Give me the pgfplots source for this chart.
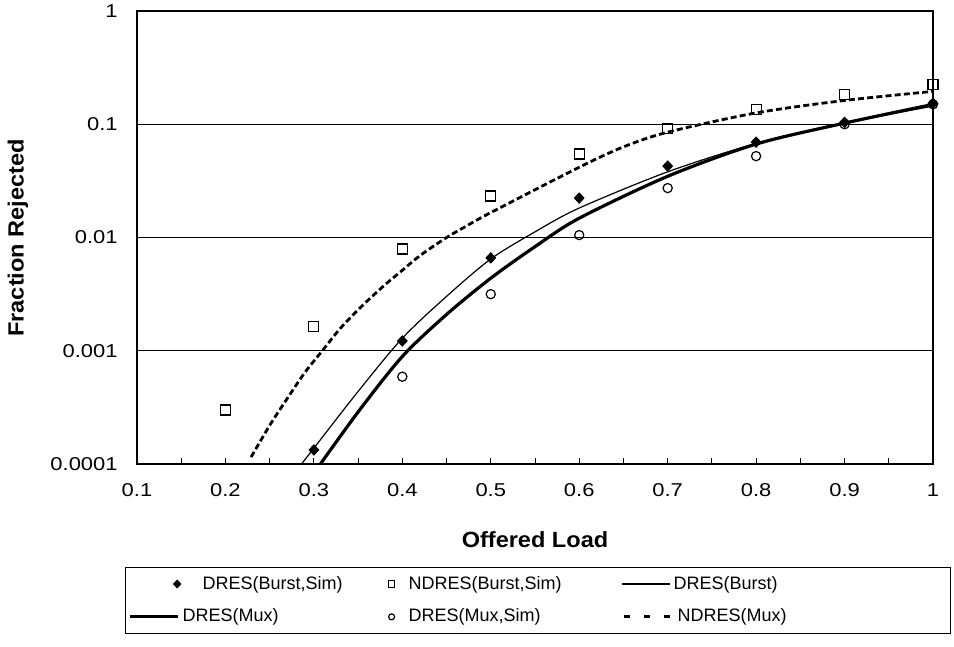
\documentclass[border=0pt]{standalone}
\usepackage{fontspec}
\setmainfont{Liberation Sans}
\newfontfamily\tickfont{Liberation Sans}[FakeStretch=1.18]
\newfontfamily\labfont{Liberation Sans}[FakeStretch=1.07]
\usepackage{pgfplots}
\pgfplotsset{compat=1.18}

\pgfplotsset{
  legmarkA/.style={legend image code/.code={\path[draw=none] (0bp,0bp) -- (24bp,0bp); \draw[##1, every mark/.append style={scale=0.7}] plot coordinates {(23.5bp,0bp)};}},
  legmarkB/.style={legend image code/.code={\path[draw=none] (0bp,0bp) -- (24bp,0bp); \draw[##1, every mark/.append style={scale=0.65}] plot coordinates {(16.5bp,0bp)};}},
  legline/.style={legend image code/.code={\draw[##1] (0bp,0bp) -- (24bp,0bp);}},
  legdash/.style={legend image code/.code={\draw[##1, dash pattern=on 3bp off 7bp] (1bp,0bp) -- (24bp,0bp);}},
}

\pgfplotstableread{
x y
0.3 1.33e-4
0.4 1.22e-3
0.5 6.6e-3
0.6 0.0223
0.7 0.0427
0.8 0.0695
0.9 0.104
1.0 0.153
}\dresburstsim
\pgfplotstableread{
x y
0.2 3.0e-4
0.3 1.65e-3
0.4 7.9e-3
0.5 0.0232
0.6 0.0545
0.7 0.092
0.8 0.136
0.9 0.184
1.0 0.226
}\ndresburstsim
\pgfplotstableread{
x y
0.28 8.7e-5
0.30 1.38e-4
0.35 4.37e-4
0.40 1.29e-3
0.45 3.02e-3
0.50 6.46e-3
0.55 0.01122
0.60 0.0182
0.70 0.0380
0.80 0.0676
0.90 0.1023
1.00 0.1445
}\dresburst
\pgfplotstableread{
x y
0.30 8.3e-5
0.35 2.88e-4
0.40 8.9e-4
0.45 2.09e-3
0.50 4.37e-3
0.55 8.3e-3
0.60 0.0148
0.70 0.0347
0.80 0.0668
0.90 0.1023
1.00 0.1496
}\dresmux
\pgfplotstableread{
x y
0.4 5.9e-4
0.5 3.16e-3
0.6 0.0105
0.7 0.0273
0.8 0.0523
0.9 0.100
1.0 0.150
}\dresmuxsim
\pgfplotstableread{
x y
0.229 1.15e-4
0.25 2.19e-4
0.27 3.80e-4
0.29 6.46e-4
0.31 1.01e-3
0.33 1.58e-3
0.355 2.51e-3
0.38 3.80e-3
0.40 5.13e-3
0.42 6.92e-3
0.45 0.0100
0.47 0.0123
0.50 0.0166
0.60 0.0417
0.65 0.0631
0.70 0.0851
0.80 0.1259
0.90 0.1622
1.00 0.195
}\ndresmux

\begin{document}
\begin{tikzpicture}
\begin{axis}[
  scale only axis, width=398bp, height=226.5bp,
  xmin=0.1, xmax=1, ymin=1e-4, ymax=1,
  ymode=log, log basis y=10,
  xtick={0.1,0.2,0.3,0.4,0.5,0.6,0.7,0.8,0.9,1},
  xticklabels={0.1,0.2,0.3,0.4,0.5,0.6,0.7,0.8,0.9,1},
  extra x ticks={0.15,0.25,0.35,0.45,0.55,0.65,0.75,0.85,0.95},
  extra x tick labels={},
  ytick={0.0001,0.001,0.01,0.1,1},
  yticklabels={0.0001,0.001,0.01,0.1,1},
  tick align=inside, tick pos=left,
  major tick length=3bp, minor tick length=2bp,
  every tick/.style={black, line width=0.5bp},
  ymajorgrids, major grid style={black, line width=0.5bp},
  axis line style={black, line width=0.8bp},
  xticklabel style={font=\tickfont\fontsize{9.3bp}{11bp}\selectfont, anchor=center, yshift=-13bp},
  yticklabel style={font=\tickfont\fontsize{9.3bp}{11bp}\selectfont, anchor=east, inner sep=0pt, xshift=-9.5bp},
  xlabel={Offered Load},
  ylabel={Fraction Rejected},
  xlabel style={font=\labfont\bfseries\fontsize{11bp}{13bp}\selectfont, at={(axis description cs:0.5,-0.1678)}, anchor=center},
  ylabel style={font=\labfont\bfseries\fontsize{11bp}{13bp}\selectfont, at={(axis description cs:-0.1495,0.499)}, anchor=center},
  legend columns=3,
  legend cell align=left,
  legend style={at={(axis description cs:-0.01508,-0.2274)}, anchor=north west,
    draw=black, line width=0.6bp, inner xsep=1.5bp, inner ysep=0bp, row sep=0bp,
    font=\fontsize{9bp}{11bp}\selectfont,
    nodes={inner xsep=1bp, inner ysep=4.2bp},
    /tikz/column 2/.style={column sep=7bp},
    /tikz/column 4/.style={column sep=29bp}},
]
\coordinate (sw) at (rel axis cs:0,0);
\coordinate (ne) at (rel axis cs:1,1);

\addplot[only marks, mark=diamond*, mark size=2.6bp, black, mark options={xscale=1.25}, legmarkA]
  table[x=x,y=y]{\dresburstsim};
\addlegendentry{\hspace*{10bp}DRES(Burst,Sim)}

\addplot[only marks, mark=square, mark size=2.5bp, black, mark options={line width=0.6bp}, legmarkB]
  table[x=x,y=y]{\ndresburstsim};
\addlegendentry{NDRES(Burst,Sim)}

\addplot[black, line width=0.6bp, smooth, no marks, legline]
  table[x=x,y=y]{\dresburst};
\addlegendentry{DRES(Burst)\hspace*{84bp}}

\addplot[black, line width=1.6bp, smooth, no marks, legline]
  table[x=x,y=y]{\dresmux};
\addlegendentry{DRES(Mux)}

\addplot[only marks, mark=o, mark size=2.3bp, black, mark options={line width=0.6bp}, legmarkB]
  table[x=x,y=y]{\dresmuxsim};
\addlegendentry{DRES(Mux,Sim)}

\addplot[black, line width=1.4bp, dash pattern=on 3bp off 1.6bp, smooth, no marks, legdash]
  table[x=x,y=y]{\ndresmux};
\addlegendentry{\hspace*{2bp}NDRES(Mux)}
\end{axis}
\pgfresetboundingbox
\path ([shift={(-68.5bp,-91.5bp)}]sw) rectangle ([shift={(10.5bp,5.5bp)}]ne);
\end{tikzpicture}
\end{document}
